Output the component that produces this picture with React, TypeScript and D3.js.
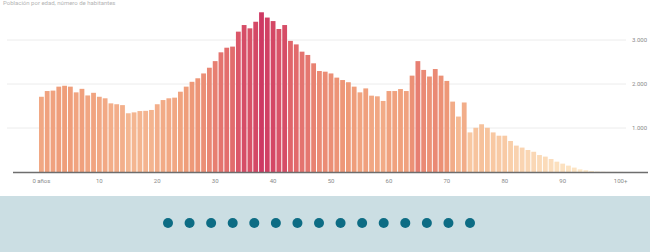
import React from 'react';
import * as d3 from 'd3';

// Population by single year of age (0..100+)
const ages: number[] = d3.range(0, 101);
const population: number[] = [
    1710, 1840, 1850, 1940, 1960, 1940, 1810, 1890, 1740, 1800,
    1710, 1675, 1560, 1540, 1520, 1335, 1355, 1385, 1390, 1410,
    1540, 1635, 1675, 1690, 1825, 1940, 2050, 2130, 2240, 2370,
    2520, 2720, 2825, 2850, 3190, 3340, 3265, 3415, 3630, 3510,
    3430, 3250, 3340, 2980, 2900, 2735, 2660, 2470, 2295, 2280,
    2240, 2145, 2090, 2040, 1940, 1810, 1900, 1735, 1720, 1615,
    1840, 1840, 1885, 1840, 2190, 2520, 2320, 2170, 2340, 2190,
    2070, 1600, 1260, 1580, 900, 1005, 1085, 1005, 900, 825,
    825, 705, 600, 555, 500, 460, 385, 350, 295, 235,
    190, 145, 100, 60, 40, 20, 10, 5, 3, 2,
    2
];
const xTicks: number[] = [0, 10, 20, 30, 40, 50, 60, 70, 80, 90, 100];
const yTicks: number[] = [1000, 2000, 3000];
const pageDots: number[] = [1, 2, 3, 4, 5, 6, 7, 8, 9, 10, 11, 12, 13, 14, 15];

const fmtX = (d: number) => (d === 0 ? '0 años' : d === 100 ? '100+' : String(d));
const fmtY = (d: number) => d3.format(',')(d).replace(/,/g, '.');

const App: React.FC = () => {
    const width = 650;
    const height = 252;

    const x = d3.scaleBand<number>()
        .domain(ages)
        .range([39, 623])
        .paddingInner(0.17);

    const y = d3.scaleLinear()
        .domain([0, 3000])
        .range([172, 40]);

    const color = d3.scaleLinear<string>()
        .domain([0, 1000, 2000, 3000, 3700])
        .range(['#fde8c8', '#f7c49e', '#ef9c79', '#e0646b', '#cc3462']);

    const dots = d3.scalePoint<number>()
        .domain(pageDots)
        .range([168, 470]);

    const font = 'Roboto, "DejaVu Sans", sans-serif';

    return (
        <div style={{ position: 'absolute', left: 0, top: 0, width, height }}>
            <svg width={width} height={height} style={{ display: 'block' }}>
                <rect x={0} y={0} width={width} height={height} fill="#ffffff" />

                {/* title strip at the very top */}
                <text x={3} y={5} fontFamily={font} fontSize={6} fill="#b4b4b4">
                    Población por edad, número de habitantes
                </text>

                {/* grid */}
                {yTicks.map(t => (
                    <g key={t}>
                        <line x1={7} x2={626} y1={y(t)} y2={y(t)} stroke="#ececec" strokeWidth={1} />
                        <text x={632} y={y(t)} dy="0.35em" fontFamily={font} fontSize={6} fill="#8a8a8a">
                            {fmtY(t)}
                        </text>
                    </g>
                ))}

                {/* bars */}
                {ages.map((a, i) => (
                    <rect
                        key={a}
                        x={x(a)}
                        y={y(population[i])}
                        width={x.bandwidth()}
                        height={y(0) - y(population[i])}
                        fill={color(population[i])}
                    />
                ))}

                {/* baseline */}
                <line x1={13} x2={648} y1={y(0) + 0.5} y2={y(0) + 0.5} stroke="#6e6e6e" strokeWidth={1.4} />

                {xTicks.map(t => (
                    <text
                        key={t}
                        x={(x(t) as number) + x.bandwidth() / 2}
                        y={181}
                        dy="0.35em"
                        textAnchor="middle"
                        fontFamily={font}
                        fontSize={6}
                        fill="#8a8a8a"
                    >
                        {fmtX(t)}
                    </text>
                ))}

                {/* pager panel */}
                <rect x={0} y={196} width={width} height={height - 196} fill="#cbdee3" />
                {pageDots.map(p => (
                    <circle key={p} cx={dots(p)} cy={223} r={5} fill="#0d6c84" />
                ))}
            </svg>
        </div>
    );
};

export default App;
